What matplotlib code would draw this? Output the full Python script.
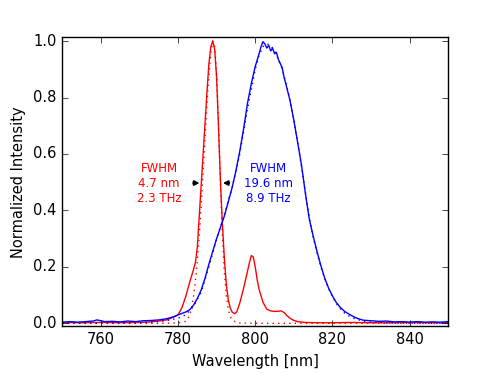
import matplotlib
matplotlib.use("Agg")
import matplotlib.pyplot as plt

# measured spectrum (red, narrow) and gaussian fit
red_wl = [750, 755, 760, 765, 770, 773, 775, 777, 778, 779, 780, 781, 782, 783, 784,
          784.5, 785, 785.5, 786, 786.5, 787, 787.5, 788, 788.5, 789, 789.5, 790, 790.5,
          791, 791.5, 792, 792.5, 793, 793.5, 794, 794.7, 795.2, 796, 797, 798, 798.5,
          799, 799.5, 800, 800.5, 801, 802, 803, 804, 805, 806, 806.7, 807.5, 808, 809,
          810, 811, 813, 816, 820, 825, 830, 835, 840, 845, 850]
red_int = [0.003, 0.002, 0.003, 0.002, 0.003, 0.005, 0.008, 0.012, 0.017, 0.023, 0.03,
           0.055, 0.095, 0.145, 0.19, 0.215, 0.27, 0.38, 0.49, 0.6, 0.71, 0.82, 0.92,
           0.98, 1.0, 0.97, 0.87, 0.69, 0.5, 0.35, 0.23, 0.14, 0.085, 0.055, 0.04,
           0.034, 0.04, 0.072, 0.125, 0.185, 0.215, 0.24, 0.235, 0.2, 0.155, 0.12,
           0.075, 0.05, 0.044, 0.042, 0.043, 0.044, 0.038, 0.03, 0.018, 0.01, 0.006,
           0.003, 0.002, 0.002, 0.003, 0.002, 0.002, 0.003, 0.002, 0.002]

red_fit_wl = [750, 775, 779, 781, 782, 782.5, 783, 783.5, 784, 784.5, 785, 785.5, 786,
              786.5, 787, 787.5, 788, 788.5, 789, 789.5, 790, 790.5, 791, 791.5, 792,
              792.5, 793, 793.5, 794, 795, 796, 800, 850]
red_fit_int = [0.0, 0.0, 0.001, 0.003, 0.007, 0.015, 0.03, 0.055, 0.095, 0.15, 0.22,
               0.31, 0.42, 0.54, 0.66, 0.78, 0.88, 0.96, 1.0, 0.98, 0.88, 0.7, 0.49,
               0.31, 0.18, 0.1, 0.05, 0.025, 0.012, 0.004, 0.001, 0.0, 0.0]

# broad spectrum (blue) and fit
blue_wl = [750, 752, 754, 756, 758, 759, 760, 761, 763, 765, 767, 769, 771, 773, 775,
           777, 779, 780, 781, 782, 783, 784, 785, 786, 787, 788, 789, 790, 791, 792,
           793, 794, 795, 796, 797, 798, 799, 800, 801, 801.5, 802, 802.5, 803, 803.5,
           804, 804.5, 805, 805.5, 806, 807, 807.5, 808, 809, 810, 811, 812, 813, 814,
           815, 816, 817, 818, 819, 820, 821, 822, 823, 824, 825, 826, 827, 828, 829,
           830, 832, 834, 836, 838, 840, 842, 844, 846, 848, 850]
blue_int = [0.004, 0.006, 0.004, 0.006, 0.008, 0.012, 0.009, 0.006, 0.007, 0.005, 0.008,
            0.006, 0.009, 0.01, 0.012, 0.016, 0.024, 0.03, 0.035, 0.04, 0.048, 0.064,
            0.088, 0.118, 0.16, 0.21, 0.255, 0.3, 0.34, 0.38, 0.43, 0.48, 0.54, 0.61,
            0.69, 0.78, 0.85, 0.91, 0.955, 0.98, 0.998, 0.99, 0.975, 0.985, 0.965, 0.975,
            0.955, 0.96, 0.935, 0.905, 0.87, 0.845, 0.79, 0.72, 0.64, 0.56, 0.46, 0.37,
            0.31, 0.255, 0.205, 0.16, 0.125, 0.097, 0.074, 0.057, 0.044, 0.035, 0.027,
            0.02, 0.015, 0.011, 0.01, 0.009, 0.007, 0.008, 0.005, 0.006, 0.004, 0.006,
            0.004, 0.005, 0.004, 0.006]

blue_fit_wl = [750, 770, 775, 778, 780, 782, 784, 786, 788, 790, 792, 794, 796, 798, 800,
               801, 802, 803, 804, 805, 806, 807, 808, 809, 810, 811, 812, 813, 814, 815,
               816, 817, 818, 819, 820, 821, 822, 823, 824, 826, 828, 830, 835, 850]
blue_fit_int = [0.0, 0.002, 0.006, 0.012, 0.018, 0.03, 0.06, 0.11, 0.2, 0.3, 0.385, 0.48,
                0.6, 0.76, 0.9, 0.95, 0.98, 0.99, 0.985, 0.965, 0.935, 0.9, 0.85, 0.79,
                0.72, 0.64, 0.555, 0.465, 0.375, 0.305, 0.25, 0.2, 0.158, 0.123, 0.095,
                0.07, 0.052, 0.038, 0.028, 0.015, 0.008, 0.004, 0.001, 0.0]

plt.style.use("classic")
plt.rcParams["font.size"] = 10.5
fig, ax = plt.subplots(figsize=(4.98, 3.74), dpi=100, facecolor="white")
fig.subplots_adjust(left=0.125, right=0.9, top=0.9, bottom=0.128)

ax.plot(red_wl, red_int, color="r", lw=1)
ax.plot(red_fit_wl, red_fit_int, color="r", ls=":", lw=1)
ax.plot(blue_wl, blue_int, color="b", lw=1)
ax.plot(blue_fit_wl, blue_fit_int, color="b", ls=":", lw=1)

# FWHM markers
arrow = dict(arrowstyle="-|>", color="k", lw=1.3, mutation_scale=7)
ax.annotate("", xy=(786.3, 0.497), xytext=(783.2, 0.497), arrowprops=arrow)
ax.annotate("", xy=(790.9, 0.497), xytext=(794.0, 0.497), arrowprops=arrow)

ax.text(775.1, 0.497, "FWHM\n4.7 nm\n2.3 THz", color="r", ha="center", va="center",
        fontsize=8.5)
ax.text(803.4, 0.497, "FWHM\n19.6 nm\n8.9 THz", color="b", ha="center", va="center",
        fontsize=8.5)

ax.set_xlim(750, 850)
ax.set_ylim(-0.01, 1.013)
ax.set_xticks([760, 780, 800, 820, 840])
ax.set_yticks([0.0, 0.2, 0.4, 0.6, 0.8, 1.0])
ax.tick_params(length=4)
ax.set_xlabel("Wavelength [nm]")
ax.set_ylabel("Normalized Intensity")

fig.savefig("out.png", dpi=100, facecolor="white")
